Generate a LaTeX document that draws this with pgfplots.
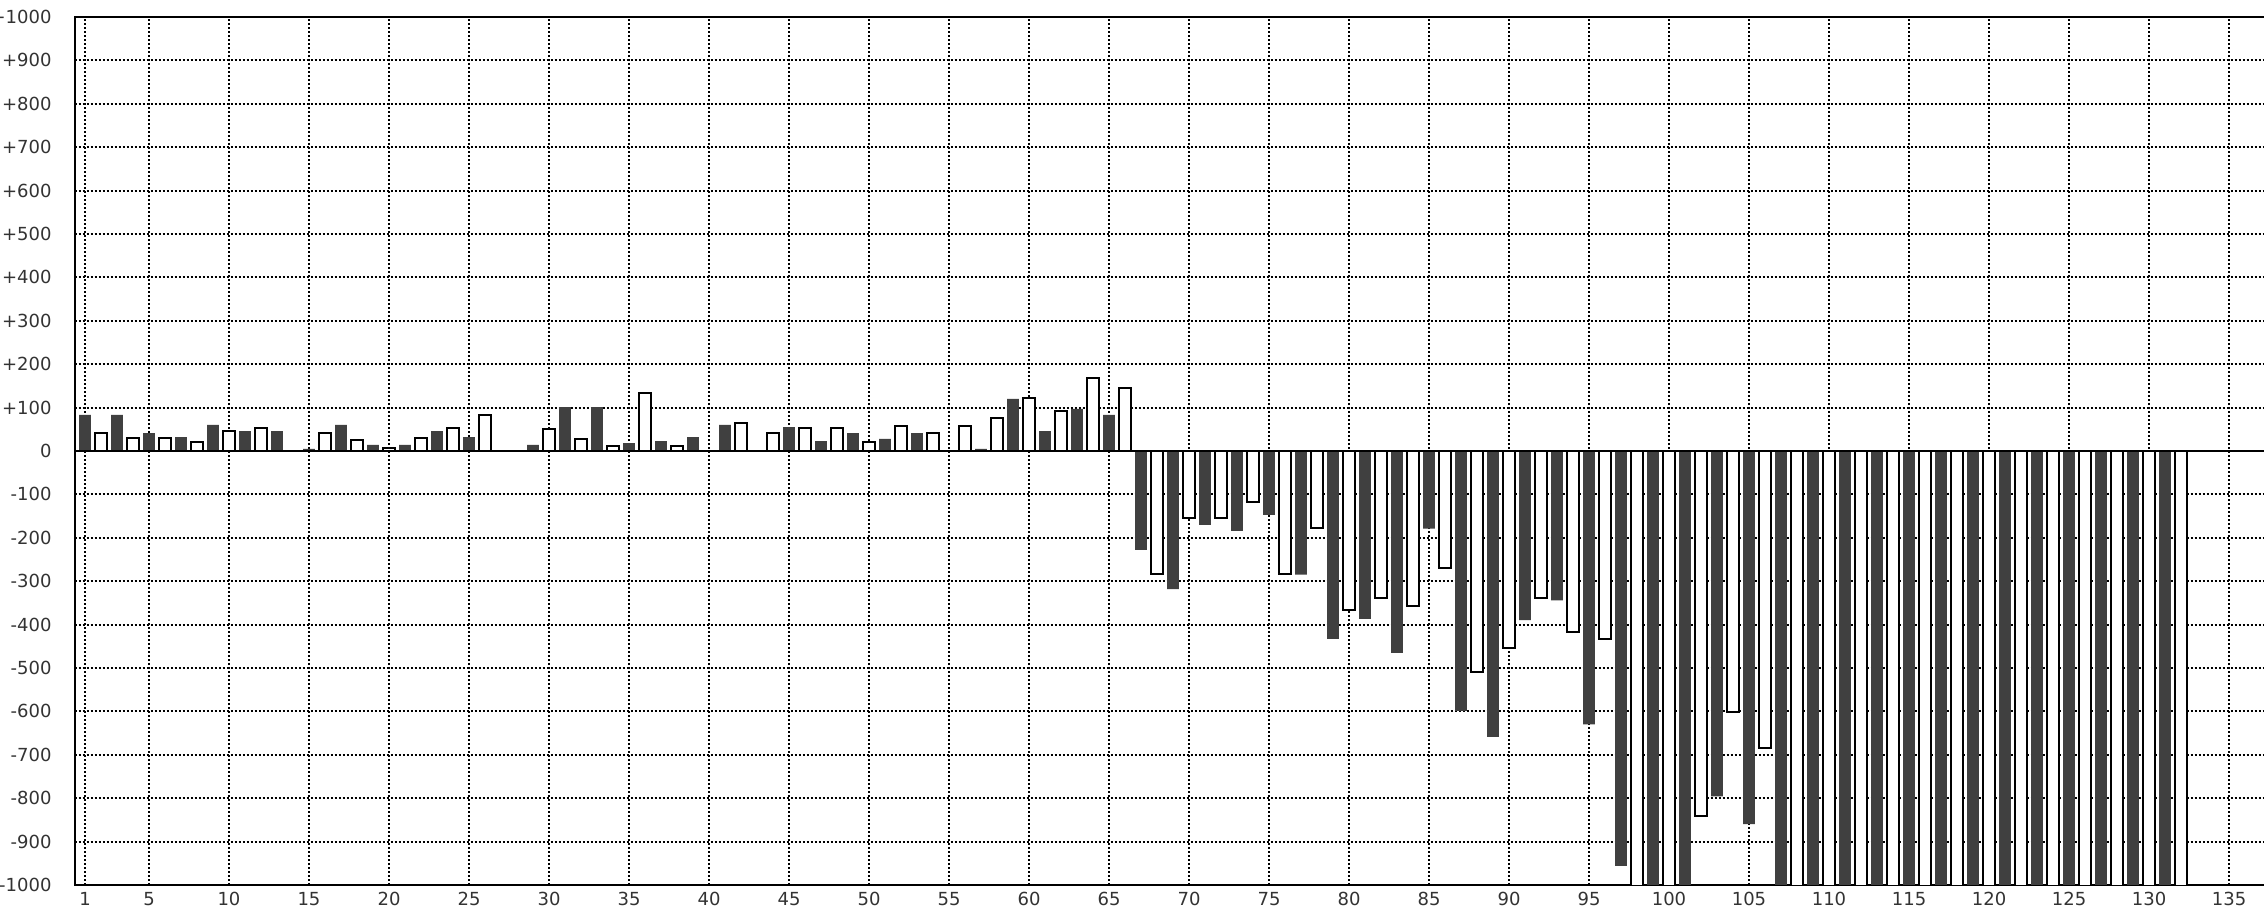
\documentclass[border=0pt]{standalone}
\usepackage{pgfplots}
\pgfplotsset{compat=1.18}
\usepackage{fontspec}
\setmainfont{DejaVu Sans}
\definecolor{barDark}{RGB}{64,64,64}
\pgfplotsset{
  layers/mylayers/.define layer set={axis background,axis grid,axis ticks,pre main,main,axis lines,axis tick labels,axis descriptions,axis foreground}{},
}
\begin{document}
\begin{tikzpicture}
\begin{axis}[
  set layers=mylayers,
  at={(37.3pt,11.5pt)}, anchor=south west,
  scale only axis, width=1096pt, height=434pt,
  xmin=0.35, xmax=137.35, ymin=-1000, ymax=1000,
  xtick={1,5,10,15,20,25,30,35,40,45,50,55,60,65,70,75,80,85,90,95,100,105,110,115,120,125,130,135},
  xticklabels={1,5,10,15,20,25,30,35,40,45,50,55,60,65,70,75,80,85,90,95,100,105,110,115,120,125,130,135},
  ytick={-1000,-900,-800,-700,-600,-500,-400,-300,-200,-100,0,100,200,300,400,500,600,700,800,900,1000},
  yticklabels={-1000,-900,-800,-700,-600,-500,-400,-300,-200,-100,0,+100,+200,+300,+400,+500,+600,+700,+800,+900,+1000},
  grid=major,
  grid style={black, line width=1pt, dash pattern=on 1pt off 1pt},
  axis line style={black, line width=1pt},
  major tick length=0pt,
  tick label style={font=\fontsize{9}{10}\selectfont, text=black!80},
  yticklabel style={xshift=-8pt},
]
\addplot[ybar, bar width=5.9pt, bar shift=0pt, fill=barDark, draw=none] coordinates {
(1,83) (3,83) (5,41) (7,32) (9,60) (11,46) (13,46) (15,5) (17,60) (19,14)
(21,14) (23,46) (25,32) (29,14) (31,101) (33,101) (35,18) (37,23) (39,32)
(41,60) (45,55) (47,23) (49,41) (51,28) (53,41) (57,5) (59,120)
(61,46) (63,97) (65,83) (67,-228) (69,-318) (71,-170) (73,-184) (75,-147) (77,-285) (79,-433)
(81,-387) (83,-465) (85,-179) (87,-599) (89,-659) (91,-390) (93,-344) (95,-630) (97,-956) (99,-1050)
(101,-1050) (103,-796) (105,-860) (107,-1050) (109,-1050) (111,-1050) (113,-1050) (115,-1050) (117,-1050) (119,-1050)
(121,-1050) (123,-1050) (125,-1050) (127,-1050) (129,-1050) (131,-1050)
};
\addplot[ybar, bar width=5.65pt, bar shift=0pt, fill=white, draw=black, line width=1pt] coordinates {
(2,41) (4,31) (6,31) (8,21) (10,45) (12,54) (16,41) (18,26) (20,8)
(22,31) (24,54) (26,82) (30,50) (32,27) (34,12) (36,133) (38,12)
(42,64) (44,41) (46,54) (48,54) (50,21) (52,58) (54,41) (56,58) (58,77) (60,123)
(62,91) (64,169) (66,146) (68,-283) (70,-155) (72,-155) (74,-118) (76,-284) (78,-178) (80,-367)
(82,-339) (84,-357) (86,-269) (88,-510) (90,-454) (92,-338) (94,-416) (96,-433) (98,-1050) (100,-1050)
(102,-840) (104,-602) (106,-685) (108,-1050) (110,-1050) (112,-1050) (114,-1050) (116,-1050) (118,-1050) (120,-1050)
(122,-1050) (124,-1050) (126,-1050) (128,-1050) (130,-1050) (132,-1050)
};
\addplot[black, line width=1pt, forget plot] coordinates {(0.35,0) (137.35,0)};
\end{axis}
\pgfresetboundingbox
\useasboundingbox (0,0) rectangle (1132pt,454pt);
\end{tikzpicture}
\end{document}
